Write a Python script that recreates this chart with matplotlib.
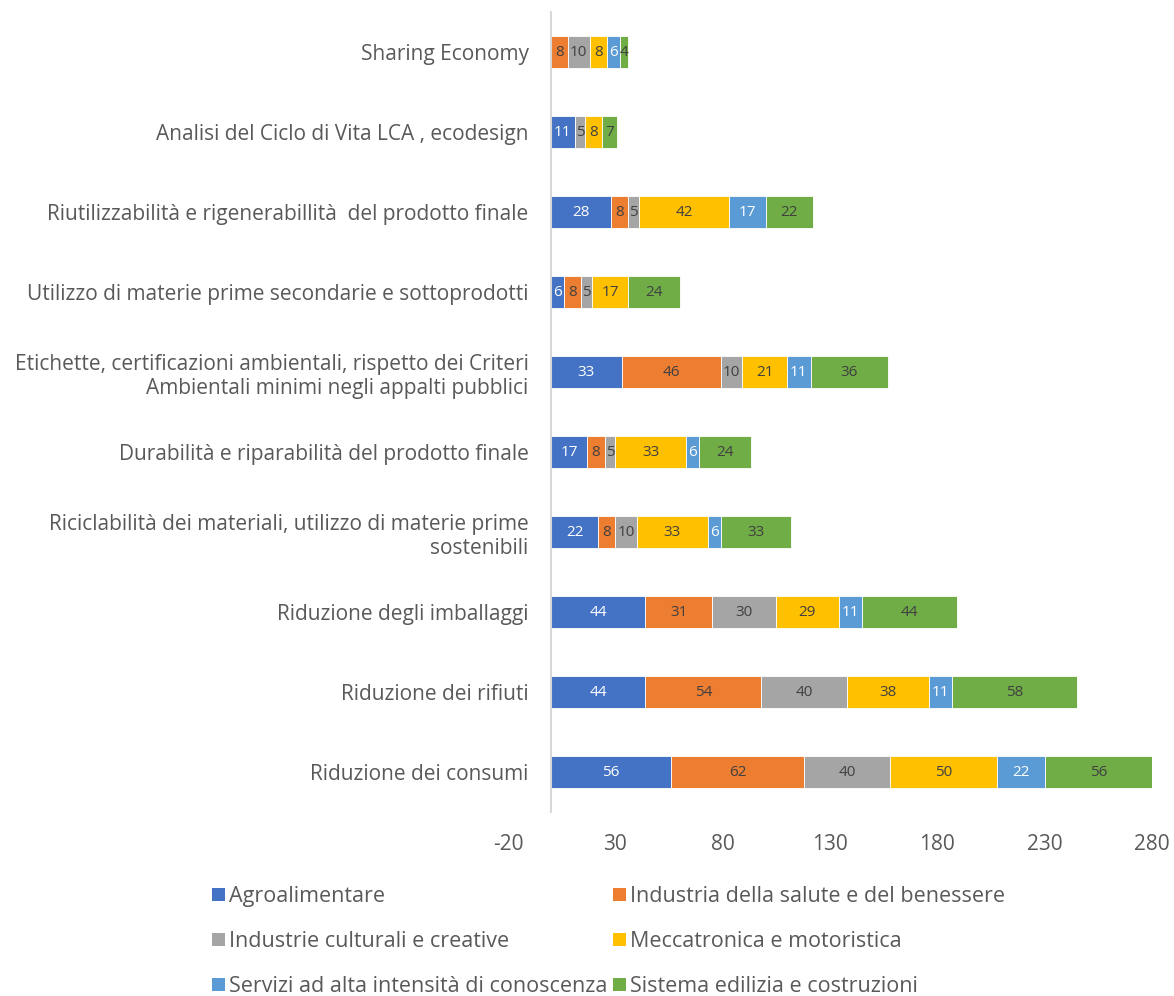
import matplotlib.pyplot as plt
from matplotlib.patches import Patch

# ------------------------------------------------------------
# dati (dall'alto verso il basso)
# ------------------------------------------------------------
categorie = [
    'Sharing Economy',
    'Analisi del Ciclo di Vita LCA , ecodesign',
    'Riutilizzabilità e rigenerabillità  del prodotto finale',
    'Utilizzo di materie prime secondarie e sottoprodotti',
    'Etichette, certificazioni ambientali, rispetto dei Criteri\nAmbientali minimi negli appalti pubblici',
    'Durabilità e riparabilità del prodotto finale',
    'Riciclabilità dei materiali, utilizzo di materie prime\nsostenibili',
    'Riduzione degli imballaggi',
    'Riduzione dei rifiuti',
    'Riduzione dei consumi',
]

serie = [
    'Agroalimentare',
    'Industria della salute e del benessere',
    'Industrie culturali e creative',
    'Meccatronica e motoristica',
    'Servizi ad alta intensità di conoscenza',
    'Sistema edilizia e costruzioni',
]

agroalimentare = [0, 11, 28, 6, 33, 17, 22, 44, 44, 56]
salute = [8, 0, 8, 8, 46, 8, 8, 31, 54, 62]
culturali = [10, 5, 5, 5, 10, 5, 10, 30, 40, 40]
meccatronica = [8, 8, 42, 17, 21, 33, 33, 29, 38, 50]
servizi = [6, 0, 17, 0, 11, 6, 6, 11, 11, 22]
edilizia = [4, 7, 22, 24, 36, 24, 33, 44, 58, 56]

valori = [agroalimentare, salute, culturali, meccatronica, servizi, edilizia]
colori = ['#4472C4', '#ED7D31', '#A5A5A5', '#FFC000', '#5B9BD5', '#70AD47']
col_testo = ['white', '#404040', '#404040', '#404040', 'white', '#404040']

XMIN, XMAX = -20, 280

plt.rcParams['font.family'] = ['Open Sans', 'DejaVu Sans']
plt.rcParams['axes.unicode_minus'] = False

fig = plt.figure(figsize=(11.74, 9.96), dpi=100)
ax = fig.add_axes([508 / 1174, 1 - 812 / 996, (1152 - 508) / 1174, 800 / 996])

y = list(range(len(categorie)))
left = [0] * len(categorie)
for vals, c, tc in zip(valori, colori, col_testo):
    ax.barh(y, vals, left=left, height=0.4, color=c, edgecolor='white', linewidth=0.6)
    for i, v in enumerate(vals):
        if v > 0:
            # la barra oltre 280 viene tagliata: etichetta al centro della parte visibile
            fine = min(left[i] + v, XMAX)
            ax.text((left[i] + fine) / 2, i, str(v), ha='center', va='center',
                    fontsize=11, color=tc)
    left = [a + b for a, b in zip(left, vals)]

ax.set_xlim(XMIN, XMAX)
ax.set_ylim(len(categorie) - 0.5, -0.5)
ax.set_xticks(range(-20, 281, 50))
ax.set_yticks(y)
ax.set_yticklabels(categorie, multialignment='center')
ax.tick_params(axis='both', length=0, labelsize=15, labelcolor='#595959')
ax.tick_params(axis='x', pad=16)
ax.tick_params(axis='y', pad=16)

for s in ['top', 'right', 'bottom']:
    ax.spines[s].set_visible(False)
ax.spines['left'].set_position(('data', 0))
ax.spines['left'].set_color('#D9D9D9')
ax.spines['left'].set_linewidth(1.5)

# legenda: ordine per righe
ordine = [0, 2, 4, 1, 3, 5]
maniglie = [Patch(facecolor=colori[k], label=serie[k]) for k in ordine]
fig.legend(handles=maniglie, ncol=2, loc='upper left',
           bbox_to_anchor=(212 / 1174, 1 - 886 / 996), frameon=False,
           fontsize=15.5, labelcolor='#595959', handlelength=0.6, handleheight=0.6,
           handletextpad=0.2, columnspacing=0.25, labelspacing=1.12,
           borderaxespad=0, borderpad=0)

plt.savefig('out.png', dpi=100)
